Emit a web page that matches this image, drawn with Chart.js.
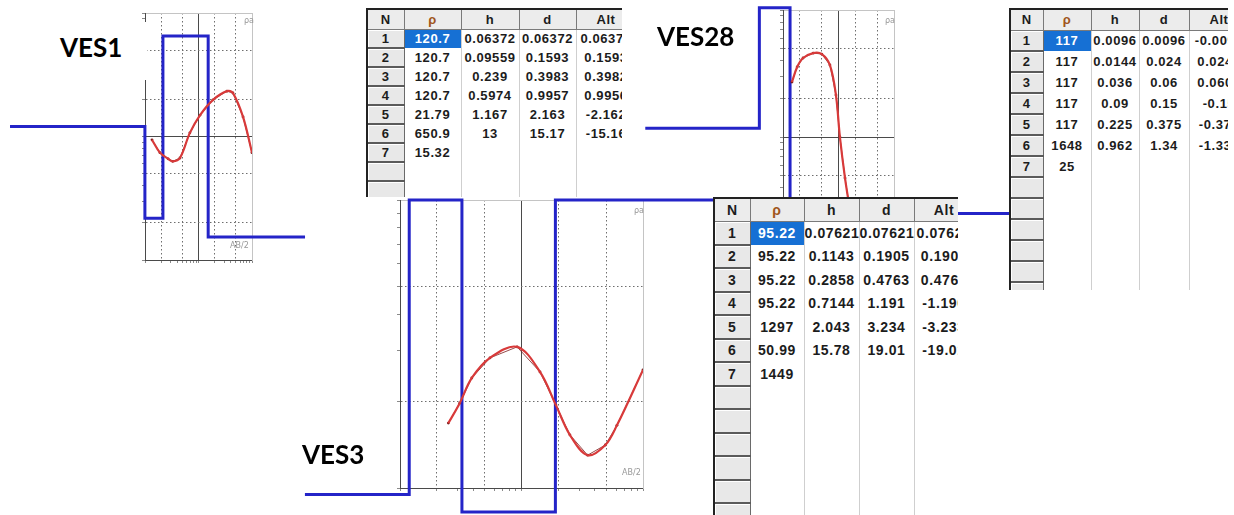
<!DOCTYPE html>
<html>
<head>
<meta charset="utf-8">
<script src="https://cdn.jsdelivr.net/npm/chart.js@4.4.0/dist/chart.umd.min.js"></script>
<style>
  body { margin: 0; background: #fff; }
  #page { position: relative; width: 1234px; height: 515px; overflow: hidden; background: #fff; }
  canvas { position: absolute; left: 0; top: 0; }
  .lbl { position: absolute; font-family: Lato, "Open Sans", sans-serif; font-weight: bold; font-size: 26px; line-height: 1; color: #000; }
  .tiny { position: absolute; font: 8px "DejaVu Sans", sans-serif; color: #999; }
  .tbl { position: absolute; overflow: hidden; background: #fff; border-top: 2px solid #222; border-left: 2px solid #222; box-sizing: border-box; }
  .tbl table { border-collapse: collapse; table-layout: fixed; font-family: "Liberation Sans", Arial, sans-serif; font-weight: bold; color: #1c1c1c; }
  .tbl th, .tbl td { padding: 0; text-align: center; overflow: hidden; white-space: nowrap; }
  .tbl th { background: #ececec; border-right: 1px solid #7a7a7a; border-bottom: 1px solid #7a7a7a; font-weight: bold; }
  .tbl td { border-right: 1px solid #cfcfcf; }
  .tbl td.n { background: #e8e8e8; border-right: 1px solid #6a6a6a; border-bottom: 2px solid #5a5a5a; box-shadow: inset 1px 1px 0 #fff; }
  .tbl td.sel { background: #1670d4; color: #fff; }
  .tbl th.rho { color: #a0561c; }
</style>
</head>
<body>
<div id="page">
  <canvas id="c1" width="1234" height="515" style="z-index:1"></canvas>
  <canvas id="c28" width="1234" height="515" style="z-index:1"></canvas>
  <div class="lbl" style="left:40px;top:22px;width:107px;height:58px;background:#fff;z-index:2;"><span style="position:relative;left:20px;top:12px;">VES1</span></div>
  <div class="lbl" style="left:657px;top:23px;z-index:2;">VES28</div>
  <div class="tiny" style="left:244px;top:16px;z-index:2;">ρa</div>
  <div class="tiny" style="left:230px;top:241px;z-index:2;">AB/2</div>
  <div class="tiny" style="left:885px;top:16px;z-index:2;">ρa</div>
  <div class="tbl" id="t1" style="left:366px;top:8px;width:256px;height:189px;z-index:3;"></div>
  <canvas id="c3" width="1234" height="515" style="z-index:4"></canvas>
  <div class="lbl" style="left:302px;top:441px;z-index:5;">VES3</div>
  <div class="tiny" style="left:634px;top:206px;z-index:5;">ρa</div>
  <div class="tiny" style="left:622px;top:468px;z-index:5;">AB/2</div>
  <div class="tbl" id="t3" style="left:713px;top:197px;width:245px;height:318px;z-index:6;"></div>
  <div class="tbl" id="t28" style="left:1009px;top:8px;width:219px;height:282px;z-index:6;"></div>
</div>
<script>
// apparent resistivity curves (AB/2 in m, rho_a in ohm.m)
var ves1Ab2 = [1.35, 1.9, 2.7, 3.3, 4.5, 6.9, 10.7, 18.7, 34, 44, 68, 100];
var ves1RhoA = [94, 74, 66, 63, 67, 107, 149, 198, 233, 225, 144, 74];
var ves28Ab2 = [1.45, 1.8, 2.3, 3.5, 5.0, 7.0, 9.0, 10.6, 13.1, 16.1];
var ves28RhoA = [271, 356, 419, 458, 450, 369, 214, 100, 47.5, 26.6];
var ves3Ab2 = [2.5, 3.1, 3.9, 5.5, 9.2, 14.2, 19.2, 25, 35, 49, 61, 100];
var ves3RhoA = [16.8, 19.7, 24.1, 28.3, 30.9, 25.3, 19.4, 15.3, 13.0, 14.1, 16.5, 25.7];

// layered model (blue step line) as drawn: bottom of each layer and its resistivity
var ves1StepX = [0.003, 0.9957, 2.163, 15.17, 980];
var ves1StepRho = [120.7, 120.7, 21.79, 650.9, 15.32];
var ves28StepX = [0.0033, 0.375, 1.34, 12000];
var ves28StepRho = [117, 117, 1040, 25];
var ves3StepX = [0.165, 1.191, 3.234, 19.01, 390];
var ves3StepRho = [9.5, 9.5, 100, 8.25, 100];

// tables
var t1Rho = ["120.7", "120.7", "120.7", "120.7", "21.79", "650.9", "15.32"];
var t1H = ["0.06372", "0.09559", "0.239", "0.5974", "1.167", "13"];
var t1D = ["0.06372", "0.1593", "0.3983", "0.9957", "2.163", "15.17"];
var t1Alt = ["0.06372", "0.1593", "0.3982", "0.9956", "-2.162", "-15.16"];
var t3Rho = ["95.22", "95.22", "95.22", "95.22", "1297", "50.99", "1449"];
var t3H = ["0.07621", "0.1143", "0.2858", "0.7144", "2.043", "15.78"];
var t3D = ["0.07621", "0.1905", "0.4763", "1.191", "3.234", "19.01"];
var t3Alt = ["0.07621", "0.1905", "0.4763", "-1.190", "-3.233", "-19.01"];
var t28Rho = ["117", "117", "117", "117", "117", "1648", "25"];
var t28H = ["0.0096", "0.0144", "0.036", "0.09", "0.225", "0.962"];
var t28D = ["0.0096", "0.024", "0.06", "0.15", "0.375", "1.34"];
var t28Alt = ["-0.0096", "0.0240", "0.0600", "-0.15", "-0.375", "-1.332"];

// axis ticks
var xTicksAll = [1, 2, 3, 4, 5, 6, 7, 8, 9, 10, 20, 30, 40, 50, 60, 70, 80, 90, 100];
var xGridMinor = [2, 5, 20, 50];
var xGridDecade = [10];
var xLabels = { 1: "1", 10: "10", 100: "100" };
var yTicksWide = [10, 20, 30, 40, 50, 60, 70, 80, 90, 100, 200, 300, 400, 500, 600, 700, 800, 900, 1000];
var yTicksNarrow = [10, 20, 30, 40, 50, 60, 70, 80, 90, 100];
var yGridMinor = [20, 50, 200, 500];
var yGridDecadeWide = [100];
var yGridDecadeNarrow = [];
var yLabels = { 10: "10", 100: "100", 1000: "1000" };

function pts(xs, ys) {
    return xs.map(function (x, i) { return { x: x, y: ys[i] }; });
}

function setTicks(list) {
    return function (s) { s.ticks = list.map(function (v) { return { value: v }; }); };
}

function pick(list, on) {
    return function (c) {
        return c.tick && list.indexOf(c.tick.value) >= 0 ? on : 'rgba(0,0,0,0)';
    };
}

function vesChart(id, box, yMax, yTicks, yDecade, ab2, rhoA, stepX, stepRho) {
    var ctx = document.getElementById(id).getContext('2d');
    return new Chart(ctx, {
        type: 'line',
        data: {
            datasets: [{
                label: 'calculated',
                data: pts(ab2, rhoA),
                borderColor: '#d83a3a',
                borderWidth: 2.2,
                tension: 0.35,
                pointRadius: 0,
                xAxisID: 'x', yAxisID: 'y'
            }, {
                label: 'observed',
                data: pts(ab2, rhoA),
                borderColor: '#7a1c1c',
                backgroundColor: '#7a1c1c',
                borderWidth: 0.8,
                pointRadius: 1.4,
                pointBorderWidth: 0,
                xAxisID: 'x', yAxisID: 'y'
            }, {
                label: 'model',
                // drawn right to left so every point is kept
                data: pts(stepX, stepRho).reverse(),
                stepped: 'before',
                borderColor: '#2424c8',
                borderWidth: 3,
                pointRadius: 0,
                clip: false,
                xAxisID: 'x', yAxisID: 'y'
            }]
        },
        options: {
            responsive: false,
            animation: false,
            events: [],
            layout: { padding: { left: box.l, top: box.t, right: 1234 - box.r, bottom: 515 - box.b } },
            plugins: { legend: { display: false }, tooltip: { enabled: false } },
            scales: {
                x: {
                    type: 'logarithmic', position: 'bottom', min: 1, max: 100,
                    afterBuildTicks: setTicks(xTicksAll),
                    afterFit: function (s) { s.height = 0; },
                    grid: { color: pick(xGridMinor, '#6e6e6e'), tickColor: '#8a8a8a', tickLength: 3 },
                    border: { color: '#4a4a4a', dash: [1.5, 2.5] },
                    ticks: {
                        autoSkip: false, maxRotation: 0, padding: 1, color: '#808080',
                        font: { size: 8 },
                        callback: function (v) { return xLabels[v] || ''; }
                    }
                },
                xd: {
                    type: 'logarithmic', position: 'top', min: 1, max: 100,
                    afterBuildTicks: setTicks(xTicksAll),
                    afterFit: function (s) { s.height = 0; },
                    grid: { color: pick(xGridDecade, '#4a4a4a'), drawTicks: false },
                    border: { color: '#c4c4c4' },
                    ticks: { display: false }
                },
                y: {
                    type: 'logarithmic', position: 'left', min: 10, max: yMax,
                    afterBuildTicks: setTicks(yTicks),
                    afterFit: function (s) { s.width = 0; },
                    grid: { color: pick(yGridMinor, '#6e6e6e'), tickColor: '#8a8a8a', tickLength: 3 },
                    border: { color: '#4a4a4a', dash: [1.5, 2.5] },
                    ticks: {
                        autoSkip: false, padding: 1, color: '#808080',
                        font: { size: 8 },
                        callback: function (v) { return yLabels[v] || ''; }
                    }
                },
                yd: {
                    type: 'logarithmic', position: 'right', min: 10, max: yMax,
                    afterBuildTicks: setTicks(yTicks),
                    afterFit: function (s) { s.width = 0; },
                    grid: { color: pick(yDecade, '#4a4a4a'), drawTicks: false },
                    border: { color: '#c4c4c4' },
                    ticks: { display: false }
                }
            }
        }
    });
}

function buildTable(id, cols, headH, rowH, nRows, fontSize, rho, h, d, alt) {
    var total = cols.reduce(function (a, b) { return a + b; }, 0);
    var html = '<table style="width:' + total + 'px;font-size:' + fontSize + 'px;letter-spacing:0.6px"><colgroup>';
    cols.forEach(function (w) { html += '<col style="width:' + w + 'px">'; });
    html += '</colgroup><tr style="height:' + headH + 'px"><th>N</th><th class="rho">ρ</th><th>h</th><th>d</th><th>Alt</th></tr>';
    for (var i = 0; i < nRows; i++) {
        html += '<tr style="height:' + rowH + 'px">';
        html += '<td class="n">' + (i < rho.length ? (i + 1) : '') + '</td>';
        html += '<td' + (i === 0 ? ' class="sel"' : '') + '>' + (rho[i] || '') + '</td>';
        html += '<td>' + (h[i] || '') + '</td>';
        html += '<td>' + (d[i] || '') + '</td>';
        html += '<td>' + (alt[i] || '') + '</td></tr>';
    }
    html += '</table>';
    document.getElementById(id).innerHTML = html;
}

vesChart('c1', { l: 145, r: 252, t: 13, b: 260 }, 1000, yTicksWide, yGridDecadeWide, ves1Ab2, ves1RhoA, ves1StepX, ves1StepRho);
vesChart('c28', { l: 783, r: 894, t: 10, b: 264 }, 1000, yTicksWide, yGridDecadeWide, ves28Ab2, ves28RhoA, ves28StepX, ves28StepRho);
vesChart('c3', { l: 400, r: 643, t: 200, b: 488 }, 100, yTicksNarrow, yGridDecadeNarrow, ves3Ab2, ves3RhoA, ves3StepX, ves3StepRho);

buildTable('t1', [36, 57, 58, 57, 60], 19, 19, 10, 13, t1Rho, t1H, t1D, t1Alt);
buildTable('t3', [35, 54, 55, 55, 60], 22, 23.5, 14, 14, t3Rho, t3H, t3D, t3Alt);
buildTable('t28', [32, 48, 48, 50, 60], 20, 21, 13, 13, t28Rho, t28H, t28D, t28Alt);
</script>
</body>
</html>
